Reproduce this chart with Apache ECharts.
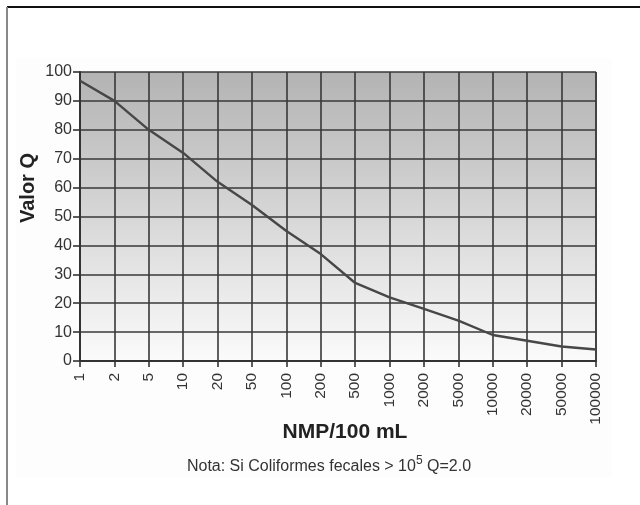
<!DOCTYPE html>
<html>
<head>
<meta charset="utf-8">
<script src="https://cdn.jsdelivr.net/npm/echarts@6/dist/echarts.min.js"></script>
<style>html,body{margin:0;padding:0;background:#fff}#c{width:640px;height:505px}</style>
</head>
<body>
<div id="c"></div>
<script>
const categories = ['1','2','5','10','20','50','100','200','500','1000','2000','5000','10000','20000','50000','100000'];
const valorQ = [97, 90, 80, 72, 62, 54, 45, 37, 27, 22, 18, 14, 9, 7, 5, 4];
const yTicks = { min: 0, max: 100, interval: 10 };
const xTitle = 'NMP/100 mL';
const yTitle = 'Valor Q';

const chart = echarts.init(document.getElementById('c'), null, {renderer: 'canvas'});
const FONT = '"Liberation Sans", Arial, sans-serif';
chart.setOption({
  animation: false,
  backgroundColor: '#ffffff',
  grid: {
    left: 80, right: 44, top: 72, bottom: 144,
    show: true,
    borderWidth: 0,
    backgroundColor: new echarts.graphic.LinearGradient(0, 0, 0, 1, [
      {offset: 0, color: '#b3b3b3'},
      {offset: 1, color: '#fbfbfb'}
    ])
  },
  xAxis: {
    type: 'category',
    data: categories,
    boundaryGap: false,
    axisLine: {show: true, lineStyle: {color: '#333', width: 2}},
    axisTick: {show: true, length: 6, lineStyle: {color: '#333', width: 1.6}},
    axisLabel: {rotate: 90, fontFamily: FONT, fontSize: 15.5, color: '#333', margin: 12, interval: 0},
    splitLine: {show: true, interval: 0, lineStyle: {color: '#383838', width: 1.6}}
  },
  yAxis: {
    type: 'value',
    min: yTicks.min, max: yTicks.max, interval: yTicks.interval,
    axisLine: {show: true, lineStyle: {color: '#333', width: 2}},
    axisTick: {show: true, length: 7, lineStyle: {color: '#333', width: 1.6}},
    axisLabel: {fontFamily: FONT, fontSize: 16, color: '#333', margin: 8, padding: [0, 0, 8, 0]},
    splitLine: {show: true, lineStyle: {color: '#383838', width: 1.6}}
  },
  series: [{
    type: 'line',
    data: valorQ,
    showSymbol: false,
    symbol: 'none',
    smooth: false,
    lineStyle: {color: '#474747', width: 2.4}
  }],
  graphic: [
    {type: 'rect', z: -10, silent: true, shape: {x: 16, y: 58, width: 596, height: 419}, style: {fill: '#fdfdfd'}},
    {type: 'line', shape: {x1: 7, y1: 7, x2: 640, y2: 7}, style: {stroke: '#111', lineWidth: 2}},
    {type: 'line', shape: {x1: 7, y1: 7, x2: 7, y2: 505}, style: {stroke: '#888', lineWidth: 2}},
    {type: 'line', shape: {x1: 596, y1: 72, x2: 596, y2: 361}, style: {stroke: '#777', lineWidth: 2}},
    {type: 'text', x: 28, y: 188, rotation: Math.PI / 2,
      style: {text: yTitle, font: 'bold 20px ' + FONT, fill: '#222', align: 'center', verticalAlign: 'middle'}},
    {type: 'text', x: 345, y: 432,
      style: {text: xTitle, font: 'bold 21px ' + FONT, fill: '#222', align: 'center', verticalAlign: 'middle'}},
    {type: 'text', x: 329, y: 465,
      style: {
        text: '{a|Nota: Si Coliformes fecales > 10}{s|5}{a| Q=2.0}',
        align: 'center', verticalAlign: 'middle',
        rich: {
          a: {fontFamily: FONT, fontSize: 16, fill: '#333', verticalAlign: 'bottom', lineHeight: 20},
          s: {fontFamily: FONT, fontSize: 12, fill: '#333', verticalAlign: 'top', lineHeight: 20, padding: [0, 0, 7, 0]}
        }
      }}
  ]
});
</script>
</body>
</html>
